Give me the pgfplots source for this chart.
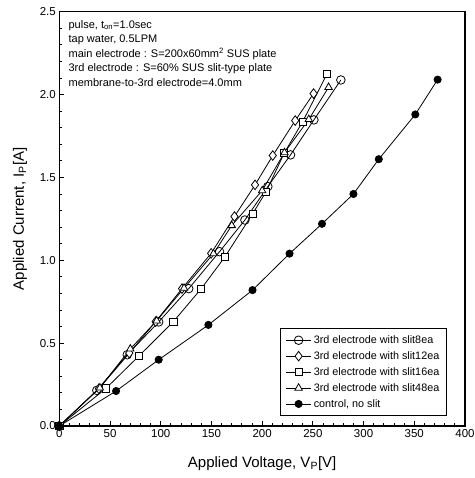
\documentclass[border=0pt]{standalone}
\usepackage{fontspec}
\setmainfont{Liberation Sans}
\usepackage{pgfplots}
\pgfplotsset{compat=1.18}
\usetikzlibrary{calc}
\begin{document}
\begin{tikzpicture}
\begin{axis}[
  scale only axis, width=405.7pt, height=414.3pt,
  xmin=0, xmax=400, ymin=0, ymax=2.5,
  xtick={0,50,100,150,200,250,300,350,400},
  ytick={0,0.5,1.0,1.5,2.0,2.5},
  minor x tick num=4, minor y tick num=4,
  tick align=inside, tick pos=left,
  major tick length=5pt, minor tick length=3pt,
  axis line style={line width=1.1pt},
  every tick/.style={line width=0.8pt, black},
  /pgf/number format/assume math mode=true,
  yticklabel style={/pgf/number format/.cd, fixed, fixed zerofill, precision=1},
  ticklabel style={font=\fontsize{11.5}{13}\selectfont},
  xlabel={Applied Voltage, V\textsubscript{P}[V]},
  ylabel={Applied Current, I\textsubscript{P}[A]},
  label style={font=\fontsize{15}{17}\selectfont},
  xlabel style={at={(axis description cs:0.5,0)}, yshift=-27pt},
  ylabel style={yshift=6pt},
  legend style={at={(axis cs:382,0.06)}, anchor=south east, draw=black, line width=0.9pt,
    font=\fontsize{10.8}{12}\selectfont, row sep=2.6pt, inner xsep=5pt, inner ysep=5pt},
  legend cell align=left,
  legend image code/.code={\draw[mark repeat=2,mark phase=2,#1] plot coordinates {(0cm,0cm) (0.45cm,0cm) (0.9cm,0cm)};},
  every axis plot/.append style={line width=0.8pt, black},
]
% slit8ea (circle)
\addplot[mark=o, mark size=4.3pt, mark options={fill=white, line width=0.8pt}] coordinates {
 (0,0) (37,0.215) (67,0.43) (98,0.628) (127.6,0.829) (158,1.052) (183,1.243) (205.6,1.445) (228,1.636) (251,1.847) (277.6,2.088)};
\addlegendentry{3rd electrode with slit8ea}
% slit12ea (diamond)
\addplot[mark=diamond*, mark size=4.8pt, mark options={fill=white, line width=0.8pt}] coordinates {
 (0,0) (39,0.225) (69,0.44) (95,0.63) (121,0.829) (149.7,1.042) (172.7,1.264) (193,1.455) (210.5,1.632) (232.6,1.843) (250.7,2.006)};
\addlegendentry{3rd electrode with slit12ea}
% slit16ea (square)
\addplot[mark=square*, mark size=3.6pt, mark options={fill=white, line width=0.8pt}] coordinates {
 (0,0) (46,0.227) (78.6,0.423) (112.5,0.63) (140,0.829) (163,1.018) (190.5,1.28) (204,1.415) (221.7,1.646) (240,1.837) (264,2.125)};
\addlegendentry{3rd electrode with slit16ea}
% slit48ea (triangle)
\addplot[mark=triangle*, mark size=4.3pt, mark options={fill=white, line width=0.8pt}] coordinates {
 (0,0) (40,0.23) (70,0.465) (96,0.635) (123,0.832) (152,1.04) (170,1.21) (200,1.42) (222,1.65) (246,1.85) (265.5,2.044)};
\addlegendentry{3rd electrode with slit48ea}
% control
\addplot[mark=*, mark size=3.6pt, mark options={fill=black}] coordinates {
 (0,0) (56,0.211) (98,0.40) (147,0.61) (190.5,0.82) (227,1.04) (259,1.22) (290,1.40) (315,1.61) (351,1.88) (373,2.09)};
\addlegendentry{control, no slit}
\node[anchor=north west, align=left, inner sep=0pt, font=\fontsize{11}{14.5}\selectfont] at (axis cs:9,2.45) {%
pulse, t\textsubscript{on}=1.0sec\\
tap water, 0.5LPM\\
main electrode : S=200x60mm\textsuperscript{2} SUS plate\\
3rd electrode : S=60\% SUS slit-type plate\\
membrane-to-3rd electrode=4.0mm};
\end{axis}
\pgfresetboundingbox
\path ($(current axis.south west)+(-59.3pt,-52pt)$) rectangle ($(current axis.north east)+(10pt,11.7pt)$);
\end{tikzpicture}
\end{document}
